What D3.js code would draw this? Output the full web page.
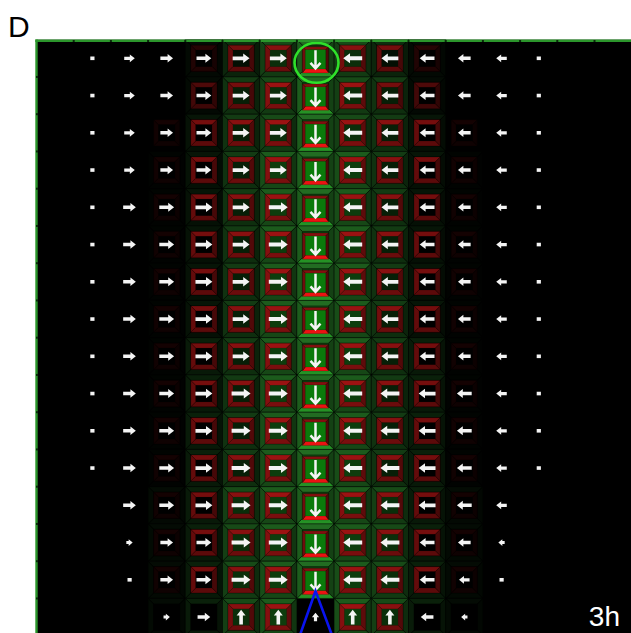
<!DOCTYPE html>
<html>
<head>
<meta charset="utf-8">
<script src="https://cdn.jsdelivr.net/npm/d3@7"></script>
<style>
body { margin: 0; background: #fff; }
svg { display: block; }
</style>
</head>
<body>
<svg id="chart" width="631" height="633"></svg>
<script>
// direction per cell: r l u d = arrow, "." = tiny dot, " " = nothing
var dirRows = [
  " .rrrrrdlllll.  ",
  " .rrrrrdlllll.  ",
  " .rrrrrdlllll.  ",
  " .rrrrrdlllll.  ",
  " .rrrrrdlllll.  ",
  " .rrrrrdlllll.  ",
  " .rrrrrdlllll.  ",
  " .rrrrrdlllll.  ",
  " .rrrrrdlllll.  ",
  " .rrrrrdlllll.  ",
  " .rrrrrdlllll.  ",
  " .rrrrrdlllll.  ",
  "  rrrrrdlllll   ",
  "  rrrrrdlllll   ",
  "  .rrrrdllll.   ",
  "   rruuuuull    "
];
// flow magnitude 0-9
var magRows = [
  "0156788998765100",
  "0156788998765100",
  "0156788998765100",
  "0156788998765100",
  "0167889998765100",
  "0167889998765100",
  "0167889998765100",
  "0167889998765100",
  "0167889998765100",
  "0167899999875100",
  "0167899999875100",
  "0167899999875100",
  "0067899999875000",
  "0036799999763000",
  "0016799999751000",
  "0003677477630000"
];
// green signal level 0-9
var greenRows = [
  "0000257975200000",
  "0000267976200000",
  "0000367976300000",
  "0001368986310000",
  "0001368986310000",
  "0001368986310000",
  "0001368986310000",
  "0001368986310000",
  "0001468986410000",
  "0001468986410000",
  "0001468986410000",
  "0001468986410000",
  "0002478987420000",
  "0002478987420000",
  "0002478987420000",
  "0002478087420000"
];
// red membrane level 0-9 (9 = active cell)
var redRows = [
  "0000267976200000",
  "0000468986400000",
  "0001678987610000",
  "0001678987610000",
  "0001678987610000",
  "0001678987610000",
  "0001678987610000",
  "0001678987610000",
  "0001678987610000",
  "0001678987610000",
  "0001678987610000",
  "0001678987610000",
  "0001678987610000",
  "0001678987610000",
  "0001678987610000",
  "0000078087000000"
];
var marked = [0, 7];                       // ringed cell (row, col)
var cone = [[6.97, 16.3], [7.5, 14.8], [8.06, 16.3]];  // (col, row)
var panelLabel = "D";
var timeLabel = "3h";

var svg = d3.select("#chart");
var n = 16;
var x = d3.scaleBand().domain(d3.range(n)).range([36.5, 36.5 + n * 37.2]);
var y = d3.scaleBand().domain(d3.range(n)).range([39.7, 39.7 + n * 37.25]);
var xl = d3.scaleLinear().domain([0, n]).range(x.range());
var yl = d3.scaleLinear().domain([0, n]).range(y.range());
var len = d3.scaleLinear().domain([0, 9]).range([0, 19]);
var greenCol = d3.interpolateRgb("#000000", "#226c22");
var redCol = d3.interpolateRgb("#000000", "#b01414");
var innerCol = d3.scaleLinear().domain([4, 8]).range(["#000000", "#0d3d0d"]).clamp(true);
var s = x.bandwidth(), bw = 5.5, ft = 5;

var cells = [];
for (var r = 0; r < n; r++) {
  for (var c = 0; c < n; c++) {
    cells.push({ r: r, c: c, dir: dirRows[r][c], mag: +magRows[r][c],
                 g: +greenRows[r][c], red: +redRows[r][c] });
  }
}

function quads(x0, y0, w, t, tb) {
  tb = tb || t;
  return [
    { side: "top", p: [[x0, y0], [x0 + w, y0], [x0 + w - t, y0 + t], [x0 + t, y0 + t]] },
    { side: "right", p: [[x0 + w, y0], [x0 + w, y0 + w], [x0 + w - t, y0 + w - tb], [x0 + w - t, y0 + t]] },
    { side: "bottom", p: [[x0, y0 + w], [x0 + w, y0 + w], [x0 + w - t, y0 + w - tb], [x0 + t, y0 + w - tb]] },
    { side: "left", p: [[x0, y0], [x0, y0 + w], [x0 + t, y0 + w - tb], [x0 + t, y0 + t]] }
  ];
}
var shade = { top: 1, right: 0.6, bottom: 0.78, left: 0.85 };
function pts(p) { return p.map(function (d) { return d.join(","); }).join(" "); }
function gl(g) { return Math.pow(g / 9, 1.5); }

// background
svg.append("rect").attr("x", x(0)).attr("y", y(0)).attr("width", 631 - x(0)).attr("height", 633 - y(0)).attr("fill", "#000");

// cell bevels
var bevel = svg.append("g");
cells.filter(function (d) { return d.g > 0; }).forEach(function (d) {
  var x0 = x(d.c), y0 = y(d.r);
  var active = d.red === 9;
  bevel.selectAll(null).data(quads(x0, y0, s, bw)).enter().append("polygon")
    .attr("points", function (q) { return pts(q.p); })
    .attr("fill", function (q) {
      if (active && q.side === "bottom") return "#259225";
      return greenCol(gl(d.g) * shade[q.side]);
    })
    .attr("stroke", "rgba(0,0,0,0.6)").attr("stroke-width", 0.7);
  bevel.append("rect").attr("x", x0 + bw).attr("y", y0 + bw).attr("width", s - 2 * bw).attr("height", s - 2 * bw)
    .attr("fill", innerCol(d.g));
});

// red frames
var frames = svg.append("g");
cells.filter(function (d) { return d.red > 0; }).forEach(function (d) {
  var active = d.red === 9;
  var x0 = x(d.c) + bw, y0 = y(d.r) + bw + (active ? 1.5 : 0), w = s - 2 * bw;
  var t = active ? 3 : ft, tb = active ? 4 : ft;
  frames.selectAll(null).data(quads(x0, y0, w, t, tb)).enter().append("polygon")
    .attr("points", function (q) { return pts(q.p); })
    .attr("fill", function (q) {
      if (active) return q.side === "bottom" ? "#ec1212" : redCol(0.75 * shade[q.side]);
      return redCol(d.red / 9 * shade[q.side]);
    })
    .attr("stroke", "rgba(0,0,0,0.4)").attr("stroke-width", 0.5);
  frames.append("rect").attr("x", x0 + t).attr("y", y0 + t).attr("width", w - 2 * t).attr("height", w - t - tb)
    .attr("fill", active ? "#0b7a0b" : innerCol(d.g));
});

// arrows
var rot = { r: 0, l: 180, d: 90, u: -90 };
function arrowPath(L) {
  var k = L / 18, ht = 1.3 + 0.6 * k, hw = 2.5 + 2.4 * k, hl = 2.6 + 4 * k, a = L / 2;
  return "M" + (-a) + "," + (-ht) + "L" + (a - hl) + "," + (-ht) + "L" + (a - hl) + "," + (-hw) +
    "L" + a + ",0L" + (a - hl) + "," + hw + "L" + (a - hl) + "," + ht + "L" + (-a) + "," + ht + "Z";
}
var arrows = svg.append("g");
cells.filter(function (d) { return d.dir !== " " && d.mag > 0; }).forEach(function (d) {
  var cx = x(d.c) + s / 2, cy = y(d.r) + s / 2;
  if (d.dir === ".") {
    arrows.append("rect").attr("x", cx - 2).attr("y", cy - 1.8).attr("width", 4.2).attr("height", 3.6).attr("fill", "#f4f4f4");
    return;
  }
  var L = len(d.mag);
  if (d.red === 9) {
    L = 18;
    arrows.append("g").attr("transform", "translate(" + cx + "," + (cy + 1) + ") rotate(90)")
      .append("path").attr("d", "M" + (-L / 2) + ",0L" + (L / 2 - 0.5) + ",0M" + (L / 2 - 5.5) + ",-5L" + (L / 2) + ",0L" + (L / 2 - 5.5) + ",5")
      .attr("fill", "none").attr("stroke", "#f4f4f4").attr("stroke-width", 2.5);
  } else {
    arrows.append("path").attr("d", arrowPath(L)).attr("fill", "#f4f4f4")
      .attr("transform", "translate(" + cx + "," + cy + ") rotate(" + rot[d.dir] + ")");
  }
});

// annotations
svg.append("path")
  .attr("d", d3.line().x(function (d) { return xl(d[0]); }).y(function (d) { return yl(d[1]); })(cone))
  .attr("fill", "none").attr("stroke", "#0a14ee").attr("stroke-width", 2.6);
svg.append("ellipse")
  .attr("cx", x(marked[1]) + s / 2 + 1).attr("cy", y(marked[0]) + s / 2 + 4.5)
  .attr("rx", 22).attr("ry", 20)
  .attr("fill", "none").attr("stroke", "#2fe02a").attr("stroke-width", 2.6);

// border
svg.append("line").attr("x1", 36.5).attr("x2", 36.5).attr("y1", 39.5).attr("y2", 633).attr("stroke", "#2b952b").attr("stroke-width", 2.4);
svg.append("line").attr("x1", 35.3).attr("x2", 631).attr("y1", 40.7).attr("y2", 40.7).attr("stroke", "#2b952b").attr("stroke-width", 2.4);
svg.selectAll(null).data(d3.range(1, n)).enter().append("rect")
  .attr("x", function (d) { return x(d) - 1; }).attr("y", 40).attr("width", 2).attr("height", 2).attr("fill", "#0a2a0a");
svg.selectAll(null).data(d3.range(1, n)).enter().append("rect")
  .attr("x", 36).attr("y", function (d) { return y(d) - 1; }).attr("width", 2).attr("height", 2).attr("fill", "#0a2a0a");

// labels
svg.append("text").attr("x", 8).attr("y", 37).text(panelLabel)
  .attr("font-family", "Liberation Sans, Arial, sans-serif").attr("font-size", 30).attr("fill", "#000");
svg.append("text").attr("x", 620).attr("y", 626).attr("text-anchor", "end").text(timeLabel)
  .attr("font-family", "Liberation Sans, Arial, sans-serif").attr("font-size", 28).attr("fill", "#fff");
</script>
</body>
</html>
